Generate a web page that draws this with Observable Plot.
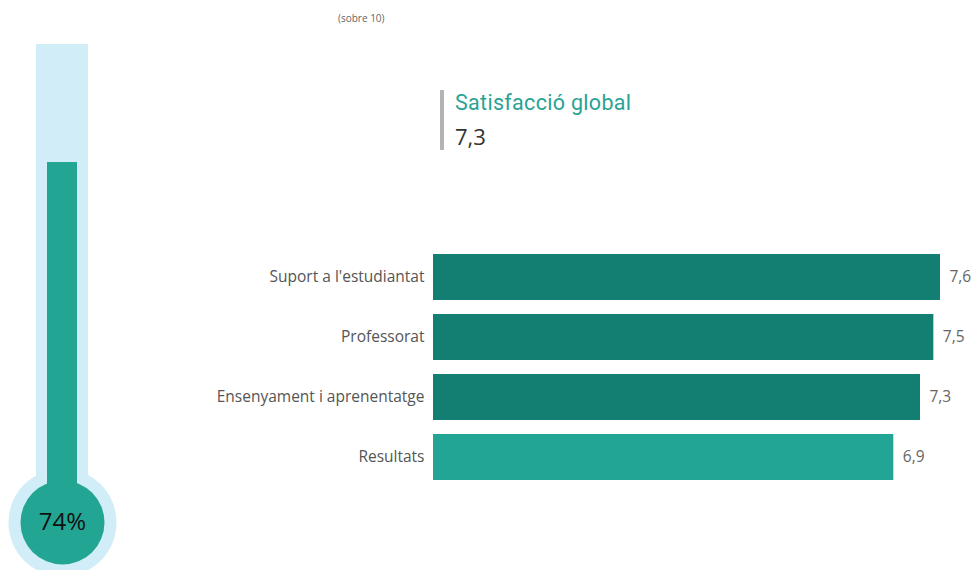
<!DOCTYPE html>
<html><head><meta charset="utf-8">
<script src="https://cdn.jsdelivr.net/npm/d3@7"></script>
<script src="https://cdn.jsdelivr.net/npm/@observablehq/plot@0.6"></script>
<style>
html,body{margin:0;padding:0;background:#fff;}
#wrap{position:relative;width:971px;height:570px;overflow:hidden;font-family:"Open Sans",sans-serif;}
#wrap svg{position:absolute;left:0;top:0;}
.note{position:absolute;left:338px;top:11px;font-size:10px;color:#666;}
.card{position:absolute;left:440px;top:90px;height:60px;border-left:4px solid #b3b3b3;padding-left:11px;}
.card .t{font-family:"Roboto",sans-serif;font-size:21.5px;font-weight:400;letter-spacing:0.3px;color:#2aa394;line-height:26px;}
.card .v{font-family:"Open Sans",sans-serif;font-size:22px;color:#333;line-height:30px;margin-top:5px;}
</style></head>
<body><div id="wrap"></div>
<script>
const categories = ["Suport a l'estudiantat", "Professorat", "Ensenyament i aprenentatge", "Resultats"];
const values = [7.6, 7.5, 7.3, 6.9];
const barColors = ["#127f72", "#127f72", "#127f72", "#22a594"];
const globalTitle = "Satisfacció global";
const globalValue = 7.3;
const gaugePercent = 74;
const note = "(sobre 10)";

const fmt = v => v.toFixed(1).replace(".", ",");
const data = categories.map((c, i) => ({cat: c, value: values[i], color: barColors[i]}));

const wrap = document.getElementById("wrap");

const bars = Plot.plot({
  width: 971, height: 570,
  marginLeft: 433, marginRight: 31, marginTop: 0, marginBottom: 0,
  style: {fontFamily: "'Open Sans', sans-serif", background: "transparent"},
  x: {domain: [0, 7.6], axis: null},
  y: {domain: categories, range: [240, 494], padding: 0.233, label: null},
  marks: [
    Plot.barX(data, {y: "cat", x: "value", fill: "color"}),
    Plot.text(data, {y: "cat", x: "value", text: d => fmt(d.value), textAnchor: "start", dx: 9, fontSize: 15.5, fill: "#666"}),
    Plot.axisY({tickSize: 0, tickPadding: 9, fontSize: 15.5, color: "#555", label: null})
  ]
});
wrap.appendChild(bars);

// Thermometer gauge
const bulbY = -5.29;
const thermo = Plot.plot({
  width: 130, height: 570,
  margin: 0,
  style: {background: "transparent", fontFamily: "'Open Sans', sans-serif"},
  x: {domain: [0, 130], range: [0, 130], axis: null},
  y: {domain: [0, 100], range: [498, 44], axis: null},
  marks: [
    Plot.rect([0], {x1: 36, x2: 88, y1: bulbY, y2: 100, fill: "#d1edf7"}),
    Plot.dot([0], {x: 62, y: bulbY, r: 54, fill: "#d1edf7"}),
    Plot.rect([gaugePercent], {x1: 47, x2: 77, y1: bulbY, y2: d => d, fill: "#23a594"}),
    Plot.dot([0], {x: 62, y: bulbY, r: 42, fill: "#23a594"}),
    Plot.text([gaugePercent], {x: 62, y: bulbY, text: d => d + "%", fontSize: 24, fill: "#111"})
  ]
});
wrap.appendChild(thermo);

const n = document.createElement("div"); n.className = "note"; n.textContent = note; wrap.appendChild(n);
const card = document.createElement("div"); card.className = "card";
card.innerHTML = `<div class="t">${globalTitle}</div><div class="v">${fmt(globalValue)}</div>`;
wrap.appendChild(card);
</script></body></html>
